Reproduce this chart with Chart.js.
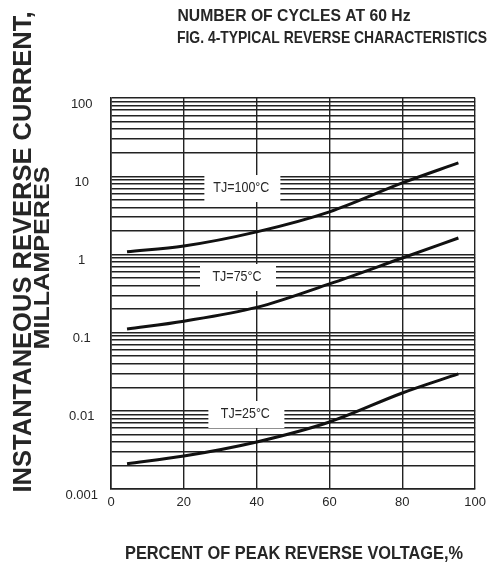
<!DOCTYPE html>
<html>
<head>
<meta charset="utf-8">
<script src="https://cdn.jsdelivr.net/npm/chart.js@4"></script>
<style>
html,body{margin:0;padding:0;background:#fff;}
canvas{display:block;}
</style>
</head>
<body>
<canvas id="c" width="492" height="567"></canvas>
<script>
// ---- data ----
const xPercent = [4.4, 20, 40, 60, 80, 95.4];
const tj100 = [1.08, 1.28, 1.94, 3.5, 8.2, 14.8];
const tj75 = [0.111, 0.14, 0.21, 0.42, 0.9, 1.62];
const tj25 = [0.0021, 0.00264, 0.004, 0.0072, 0.0169, 0.0296];

const yDecades = [0.001, 0.01, 0.1, 1, 10];
const yTickValues = [0.001, 0.01, 0.1, 1, 10, 100];
const yTickLabels = ['0.001', '0.01', '0.1', '1', '10', '100'];

const curveLabels = ['TJ=100°C', 'TJ=75°C', 'TJ=25°C'];
const curveLabelX = [35.8, 34.6, 36.9];
const curveLabelY = [7.06, 0.514, 0.0091];

const titleLines = ['NUMBER OF CYCLES AT 60 Hz', 'FIG. 4-TYPICAL REVERSE CHARACTERISTICS'];
const xTitle = 'PERCENT OF PEAK REVERSE VOLTAGE,%';
const yTitleLines = ['INSTANTANEOUS REVERSE CURRENT,', 'MILLAMPERES'];

const FONT = "'Liberation Sans', Arial, Helvetica, sans-serif";
const TEXT = '#262626';

function mk(vals){ return xPercent.map((x,i)=>({x:x, y:vals[i]})); }

function fitText(ctx, text, cx, cy, size, weight, width, rot) {
  ctx.save();
  ctx.font = weight + ' ' + size + 'px ' + FONT;
  ctx.fillStyle = TEXT;
  ctx.textAlign = 'center';
  ctx.textBaseline = 'middle';
  const w = ctx.measureText(text).width;
  ctx.translate(cx, cy);
  if (rot) ctx.rotate(rot);
  if (width) ctx.scale(width / w, 1);
  ctx.fillText(text, 0, 0);
  ctx.restore();
}

const decor = {
  id: 'decor',
  beforeDatasetsDraw(chart) {
    const ctx = chart.ctx, xs = chart.scales.x, ys = chart.scales.y;
    ctx.save();
    curveLabels.forEach((t, i) => {
      const px = xs.getPixelForValue(curveLabelX[i]);
      const py = ys.getPixelForValue(curveLabelY[i]);
      ctx.fillStyle = '#fff';
      ctx.fillRect(px - 37, py - 13, 76, 27);
      fitText(ctx, t, px, py, 14, 'normal', t.length * 7, 0);
    });
    ctx.restore();
  },
  afterDraw(chart) {
    const ctx = chart.ctx;
    fitText(ctx, titleLines[0], 294, 16, 17, 'bold', 233, 0);
    fitText(ctx, titleLines[1], 332, 38, 17, 'bold', 310, 0);
    fitText(ctx, xTitle, 294, 554, 19, 'bold', 338, 0);
    fitText(ctx, yTitleLines[0], 24, 252, 25, 'bold', 481, -Math.PI / 2);
    fitText(ctx, yTitleLines[1], 43, 258, 22, 'bold', 183, -Math.PI / 2);
  }
};

const lineStyle = {
  borderColor: '#111', borderWidth: 3, pointRadius: 0, fill: false,
  cubicInterpolationMode: 'monotone'
};

new Chart(document.getElementById('c'), {
  type: 'line',
  data: {
    datasets: [
      Object.assign({label: curveLabels[0], data: mk(tj100)}, lineStyle),
      Object.assign({label: curveLabels[1], data: mk(tj75)}, lineStyle),
      Object.assign({label: curveLabels[2], data: mk(tj25)}, lineStyle)
    ]
  },
  options: {
    responsive: false,
    animation: false,
    events: [],
    layout: { padding: { top: 98, right: 15, left: 0, bottom: 0 } },
    plugins: { legend: { display: false }, title: { display: false }, tooltip: { enabled: false } },
    scales: {
      x: {
        type: 'linear', min: 0, max: 100,
        afterFit(s) { s.height = 78; },
        ticks: { stepSize: 20, padding: 6, color: TEXT, font: { family: FONT, size: 13 } },
        grid: { color: '#222', lineWidth: 1.4, drawTicks: false },
        border: { color: '#222', width: 1.6 }
      },
      y: {
        type: 'logarithmic', min: 0.001, max: 100,
        afterFit(s) { s.width = 111; },
        afterBuildTicks(s) {
          const t = [];
          yDecades.forEach(d => { for (let m = 1; m < 10; m++) t.push({ value: +(m * d).toPrecision(6) }); });
          t.push({ value: 100 });
          s.ticks = t;
        },
        ticks: {
          autoSkip: false, padding: 13, crossAlign: 'center', labelOffset: 6,
          color: TEXT, font: { family: FONT, size: 13 },
          callback(v) {
            const i = yTickValues.findIndex(u => Math.abs(u - v) / u < 1e-6);
            return i >= 0 ? yTickLabels[i] : '';
          }
        },
        grid: { color: '#222', lineWidth: 1.4, drawTicks: false },
        border: { color: '#222', width: 1.6 }
      }
    }
  },
  plugins: [decor]
});
</script>
</body>
</html>
